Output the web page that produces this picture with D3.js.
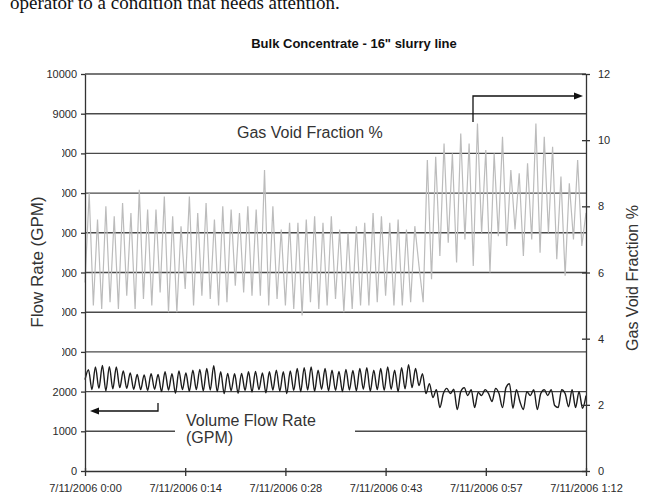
<!DOCTYPE html>
<html lang="en">
<head>
<meta charset="UTF-8">
<title>Bulk Concentrate - 16" slurry line</title>
<script src="https://d3js.org/d3.v7.min.js"></script>
<style>
  body { margin: 0; background: #fff; }
  svg { display: block; font-family: "Liberation Sans", Arial, sans-serif; }
  .axis text { font-size: 11px; fill: #2a2a2a; }
  .axis path, .axis line { stroke: #333; stroke-width: 1.3; }
  .grid line { stroke: #4a4a4a; stroke-width: 1.4; }
  .note { font-size: 16px; fill: #333; }
</style>
</head>
<body>
<svg id="chart"></svg>
<script>
// Gas void fraction (%), one sample every 0.6 min from 7/11/2006 0:00
const gasStep = 0.6;
const gasVoid = [
  5.7, 8.4, 5.0, 7.6, 4.9, 8.0, 5.1, 7.7, 4.9, 8.1,
  5.3, 7.8, 4.9, 8.5, 5.2, 7.9, 5.0, 7.9, 5.4, 8.3,
  4.8, 7.7, 4.8, 7.4, 5.5, 8.3, 5.0, 7.8, 5.3, 8.1,
  5.2, 7.6, 5.0, 8.0, 5.1, 7.9, 5.6, 7.8, 5.4, 8.0,
  5.3, 7.9, 5.3, 9.1, 5.0, 8.0, 5.2, 7.3, 5.0, 7.5,
  4.9, 7.5, 4.7, 7.6, 5.1, 7.7, 4.9, 7.5, 5.0, 7.7,
  5.2, 7.3, 4.8, 7.2, 4.9, 7.4, 5.0, 7.5, 5.0, 7.8,
  5.1, 7.7, 5.3, 7.5, 5.0, 7.6, 5.0, 7.3, 5.1, 7.4,
  6.2, 5.1, 9.4, 5.8, 9.5, 6.5, 9.9, 6.9, 9.6, 6.3,
  10.2, 7.0, 9.9, 6.2, 10.5, 7.2, 9.7, 6.0, 9.6, 7.1,
  10.1, 6.8, 9.1, 7.3, 9.0, 6.5, 9.3, 7.0, 10.5, 6.6,
  10.1, 7.2, 9.8, 6.4, 8.9, 5.9, 8.7, 7.0, 9.4, 6.8,
  7.8
];

// Volume flow rate (GPM), one sample every 0.5 min
const flowStep = 0.5;
const flowRate = [
  2300, 2550, 2050, 2620, 2080, 2660, 2020, 2630, 2070, 2620,
  2100, 2520, 2080, 2470, 2060, 2430, 2050, 2420, 2030, 2450,
  2060, 2430, 2000, 2500, 2040, 2450, 1960, 2520, 2050, 2470,
  2010, 2540, 2050, 2560, 2020, 2580, 2040, 2650, 2000, 2500,
  1950, 2460, 2020, 2450, 1960, 2460, 2030, 2500, 1990, 2510,
  2050, 2470, 1970, 2500, 2040, 2540, 2010, 2500, 1950, 2520,
  2030, 2580, 2000, 2600, 2040, 2620, 2010, 2540, 2060, 2580,
  2020, 2540, 2030, 2510, 2000, 2560, 2040, 2530, 2020, 2580,
  2060, 2600, 2010, 2540, 2050, 2580, 2030, 2620, 2060, 2540,
  2000, 2600, 2070, 2680, 2100, 2580, 2150, 2450, 1950, 2200,
  1850, 2050, 1600, 1950, 2080, 1950, 2060, 1550, 2000, 2100,
  1900, 2050, 1600, 1980, 1900, 2050, 1950, 1750, 2080, 1950,
  1600, 2100, 2200, 1580, 2050, 1750, 1550, 2000, 1900, 2050,
  1550, 1950, 2050, 1900, 2050, 1650, 1600, 2050, 1950, 1620,
  2050, 1600, 2000, 1580, 1900
];

const xTickMinutes = [0, 14.4, 28.8, 43.2, 57.6, 72];
const xTickLabels = ["7/11/2006 0:00", "7/11/2006 0:14", "7/11/2006 0:28",
                     "7/11/2006 0:43", "7/11/2006 0:57", "7/11/2006 1:12"];
const leftTicks = [0, 1000, 2000, 3000, 4000, 5000, 6000, 7000, 8000, 9000, 10000];
const rightTicks = [0, 2, 4, 6, 8, 10, 12];

const svg = d3.select('#chart').attr('width', 657).attr('height', 502);

const x = d3.scaleLinear().domain([0, 72]).range([85, 586]);
const yLeft = d3.scaleLinear().domain([0, 10000]).range([471, 74]);
const yRight = d3.scaleLinear().domain([0, 12]).range([471, 74]);

// cut-off line of the surrounding document
svg.append('text')
    .attr('x', 10).attr('y', 9)
    .style('font-family', '"Liberation Serif", "Times New Roman", serif')
    .style('font-size', '19px')
    .attr('fill', '#111')
    .text('operator to a condition that needs attention.');

// chart title
svg.append('text')
    .attr('x', 354).attr('y', 48)
    .attr('text-anchor', 'middle')
    .style('font-size', '13px').style('font-weight', 'bold')
    .attr('fill', '#111')
    .text('Bulk Concentrate - 16" slurry line');

// horizontal gridlines
svg.append('g').attr('class', 'grid')
    .selectAll('line')
    .data(leftTicks.filter(d => d > 0))
    .join('line')
    .attr('x1', x(0)).attr('x2', x(72))
    .attr('y1', d => yLeft(d)).attr('y2', d => yLeft(d));

// gas void fraction series
const gasLine = d3.line()
    .x((d, i) => x(i * gasStep))
    .y(d => yRight(d));
svg.append('path')
    .datum(gasVoid)
    .attr('d', gasLine)
    .attr('fill', 'none')
    .attr('stroke', '#bcbcbc')
    .attr('stroke-width', 1.2);

// flow rate series
const flowLine = d3.line()
    .curve(d3.curveMonotoneX)
    .x((d, i) => x(i * flowStep))
    .y(d => yLeft(d));
svg.append('path')
    .datum(flowRate)
    .attr('d', flowLine)
    .attr('fill', 'none')
    .attr('stroke', '#1c1c1c')
    .attr('stroke-width', 1.4);

// axes
svg.append('g').attr('class', 'axis')
    .attr('transform', 'translate(85,0)')
    .call(d3.axisLeft(yLeft).tickValues(leftTicks).tickFormat(d3.format('d'))
        .tickSize(4).tickPadding(4).tickSizeOuter(0));

const rAxis = svg.append('g').attr('class', 'axis')
    .attr('transform', 'translate(586,0)')
    .call(d3.axisRight(yRight).tickValues(rightTicks)
        .tickSize(4).tickPadding(8).tickSizeOuter(0));
rAxis.selectAll('.tick line').attr('x1', -4);

const xAxis = svg.append('g').attr('class', 'axis')
    .attr('transform', 'translate(0,471)')
    .call(d3.axisBottom(x).tickValues(xTickMinutes).tickFormat((d, i) => xTickLabels[i])
        .tickSize(5).tickPadding(8).tickSizeOuter(0));
xAxis.selectAll('.tick line').attr('y1', -3);

// left axis title (its box hides part of the tick labels)
svg.append('rect').attr('x', 26).attr('y', 124).attr('width', 36).attr('height', 248).attr('fill', '#fff');
svg.append('text')
    .attr('transform', 'translate(43,262) rotate(-90)')
    .attr('text-anchor', 'middle')
    .style('font-size', '17px').attr('fill', '#333')
    .text('Flow Rate (GPM)');

// right axis title
svg.append('text')
    .attr('transform', 'translate(638,278) rotate(-90)')
    .attr('text-anchor', 'middle')
    .style('font-size', '16px').attr('fill', '#333')
    .text('Gas Void Fraction %');

// annotations
svg.append('text').attr('class', 'note')
    .attr('x', 237).attr('y', 138)
    .text('Gas Void Fraction %');

svg.append('rect').attr('x', 175).attr('y', 409).attr('width', 180).attr('height', 42).attr('fill', '#fff');
svg.append('text').attr('class', 'note')
    .attr('x', 186).attr('y', 426)
    .text('Volume Flow Rate');
svg.append('text').attr('class', 'note')
    .attr('x', 186).attr('y', 443)
    .text('(GPM)');

// arrows
svg.append('path')
    .attr('d', 'M473,122V96H576')
    .attr('fill', 'none').attr('stroke', '#111').attr('stroke-width', 1.3);
svg.append('path')
    .attr('d', 'M583,96L574,92.5L574,99.5Z')
    .attr('fill', '#111');

svg.append('path')
    .attr('d', 'M158,403V411H97')
    .attr('fill', 'none').attr('stroke', '#111').attr('stroke-width', 1.3);
svg.append('path')
    .attr('d', 'M90,411L99,407.5L99,414.5Z')
    .attr('fill', '#111');
</script>
</body>
</html>
